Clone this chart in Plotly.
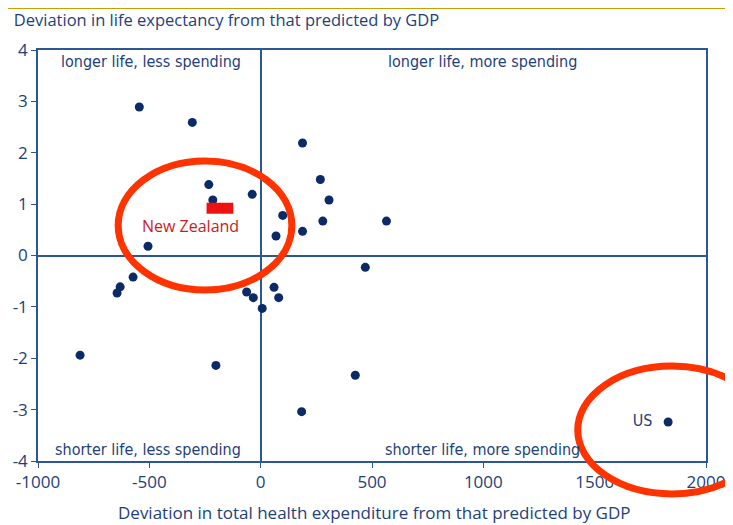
import plotly.graph_objects as go

# 各国数据：卫生支出偏差 vs 预期寿命偏差
spend_dev = [-545, -307, 188, -233, -215, -38, 268, 307, 99, 279, 565, 188, 69,
             -506, 470, -573, -631, -645, -63, -33, 7, 60, 81, -811, -201, 425, 184]
life_dev = [2.89, 2.59, 2.19, 1.38, 1.08, 1.19, 1.48, 1.08, 0.78, 0.67, 0.67, 0.47, 0.38,
            0.18, -0.23, -0.42, -0.61, -0.73, -0.71, -0.82, -1.03, -0.62, -0.82, -1.94,
            -2.14, -2.33, -3.04]

us_x, us_y = [1830], [-3.24]
nz_x, nz_y = -183, 0.92

x_ticks = [-1000, -500, 0, 500, 1000, 1500, 2000]
x_ticktext = ["-1000", "-500", "0", "500", "1000", "1500", "2000"]
y_ticks = [-4, -3, -2, -1, 0, 1, 2, 3, 4]
y_ticktext = ["-4", "-3", "-2", "-1", "0", "1", "2", "3", "4"]

NAVY = "#0b2a66"
LINE = "#2b5797"
TEXT = "#1e3f7a"
RED = "#ff3300"
NARROW = "Liberation Sans Narrow, DejaVu Sans Condensed, sans-serif"
SANS = "Open Sans, Liberation Sans, sans-serif"

fig = go.Figure()

fig.add_trace(go.Scatter(
    x=spend_dev, y=life_dev, mode="markers",
    marker=dict(color=NAVY, size=9),
))

# 美国
fig.add_trace(go.Scatter(
    x=us_x, y=us_y, mode="markers+text",
    text=["US  "], textposition="middle left",
    textfont=dict(family=NARROW, size=16, color=TEXT),
    marker=dict(color=NAVY, size=9),
))

# 新西兰：红色矩形
fig.add_trace(go.Scatter(
    x=[nz_x - 60, nz_x + 60], y=[nz_y, nz_y], mode="lines",
    line=dict(color="#ee1111", width=11),
))

fig.add_annotation(
    x=nz_x - 134, y=nz_y - 0.35, text="New Zealand", showarrow=False,
    font=dict(family=SANS, size=16, color="#cc1a22"),
)

# 象限标注
quadrants = [
    ("longer life, less spending", 0.169, 0.972),
    ("longer life, more spending", 0.665, 0.972),
    ("shorter life, less spending", 0.165, 0.027),
    ("shorter life, more spending", 0.665, 0.027),
]
for txt, qx, qy in quadrants:
    fig.add_annotation(
        x=qx, y=qy, xref="paper", yref="paper", text=txt, showarrow=False,
        xanchor="center", yanchor="middle",
        font=dict(family=NARROW, size=16, color=TEXT),
    )

# x 轴标题
fig.add_annotation(
    x=0.504, y=-0.1265, xref="paper", yref="paper", xanchor="center", yanchor="middle",
    text="Deviation in total health expenditure from that predicted by GDP", showarrow=False,
    font=dict(family=SANS, size=17, color=TEXT),
)

# 幻灯片顶部金线
fig.add_shape(type="rect", xref="paper", yref="paper", x0=-0.06, x1=1.05,
              y0=1.0998, y1=1.11, fillcolor="#c9a000", line_width=0, layer="above")

# 红色圈注
fig.add_shape(type="circle", xref="paper", yref="paper", x0=0.120, x1=0.380,
              y0=0.416, y1=0.730, line=dict(color=RED, width=7), layer="above")
fig.add_shape(type="circle", xref="paper", yref="paper", x0=0.808, x1=1.090,
              y0=-0.080, y1=0.231, line=dict(color=RED, width=7), layer="above")

axis_common = dict(
    showgrid=False, showline=True, mirror=True, linecolor=LINE, linewidth=1.5,
    zeroline=True, zerolinecolor=LINE, zerolinewidth=1.5,
    ticks="outside", ticklen=5, tickcolor=LINE, automargin=False,
    tickfont=dict(family=SANS, size=17, color=TEXT),
)
fig.update_xaxes(range=[-1000, 2000], tickvals=x_ticks, ticktext=x_ticktext, **axis_common)
fig.update_yaxes(range=[-4, 4], tickvals=y_ticks, ticktext=y_ticktext, **axis_common)

# 页面 body 默认有 8px 边距，所以画布比窗口小 8px
fig.update_layout(
    width=725, height=517,
    showlegend=False,
    title=dict(
        text="Deviation in life expectancy from that predicted by GDP",
        xref="container", yref="container", x=0.008, y=0.977,
        xanchor="left", yanchor="middle",
        font=dict(family=SANS, size=16.5, color=TEXT),
    ),
    plot_bgcolor="white", paper_bgcolor="white",
    margin=dict(l=30, r=27, t=42, b=64),
)

fig.write_html("out.html")
